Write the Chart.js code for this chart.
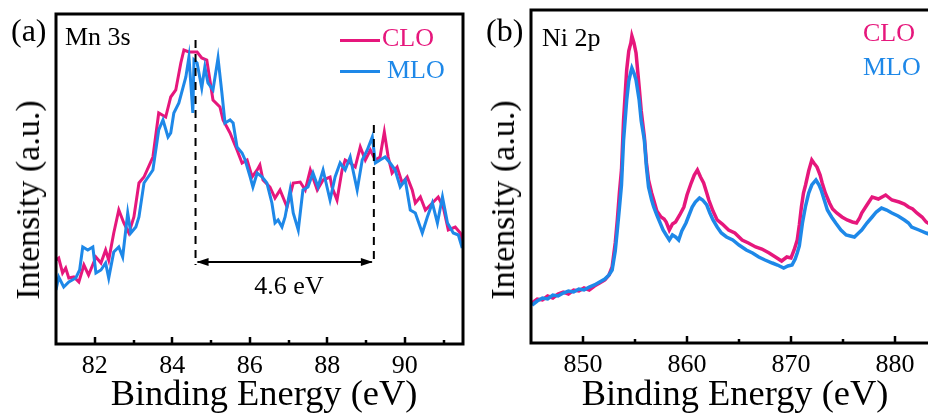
<!DOCTYPE html>
<html>
<head>
<meta charset="utf-8">
<script src="https://cdn.jsdelivr.net/npm/chart.js@4.4.1/dist/chart.umd.min.js"></script>
<style>
  html, body { margin: 0; padding: 0; background: #fff; overflow: hidden; }
  body { width: 928px; height: 416px; position: relative; font-family: "Liberation Serif", "DejaVu Serif", serif; color: #000; }
  .cv { position: absolute; top: 0; }
  .t { position: absolute; white-space: nowrap; line-height: 1; }
  .rot { transform: translate(-50%, -50%) rotate(-90deg); }
  .ctr { transform: translate(-50%, -50%); }
  .wide { transform: translate(-50%, -50%) scaleX(1.04); }
  .sw { position: absolute; height: 3px; width: 40px; }
</style>
</head>
<body>
<div class="cv" style="left:0;width:480px;height:416px"><canvas id="cto_mn"></canvas></div>
<div class="cv" style="left:470px;width:480px;height:416px"><canvas id="cto_ni"></canvas></div>

<div class="t" style="left:11px;top:14px;font-size:32px">(a)</div>
<div class="t" style="left:486px;top:14px;font-size:32px">(b)</div>
<div class="t" style="left:65px;top:24px;font-size:26px">Mn 3s</div>
<div class="t" style="left:542px;top:25px;font-size:26px">Ni 2p</div>

<div class="sw" style="left:340px;top:39px;background:#e6177c"></div>
<div class="sw" style="left:340px;top:70px;background:#1e88e8"></div>
<div class="t" style="left:382px;top:25px;font-size:26px;color:#e6177c">CLO</div>
<div class="t" style="left:387px;top:57px;font-size:26px;color:#1e88e8">MLO</div>
<div class="t" style="left:863px;top:20px;font-size:26px;color:#e6177c">CLO</div>
<div class="t" style="left:863px;top:54px;font-size:26px;color:#1e88e8">MLO</div>

<div class="t ctr" style="left:289px;top:286px;font-size:26px">4.6 eV</div>

<div class="t rot" style="left:28px;top:200px;font-size:34px">Intensity (a.u.)</div>
<div class="t rot" style="left:503px;top:200px;font-size:34px">Intensity (a.u.)</div>
<div class="t wide" style="left:264px;top:393px;font-size:35px">Binding Energy (eV)</div>
<div class="t wide" style="left:735px;top:393px;font-size:35px">Binding Energy (eV)</div>

<script>
// Mn 3s (a)
var mnEnergyClo = [81.00, 81.07, 81.17, 81.25, 81.33, 81.46, 81.59, 81.72, 81.84, 82.03, 82.16, 82.28, 82.36, 82.49, 82.62, 82.75, 82.88, 83.01, 83.14, 83.27, 83.50, 83.65, 83.83, 83.96, 84.09, 84.22, 84.30, 84.43, 84.64, 84.76, 84.89, 84.97, 85.05, 85.23, 85.31, 85.49, 85.67, 85.80, 85.93, 86.06, 86.19, 86.26, 86.34, 86.52, 86.65, 86.78, 86.96, 87.12, 87.30, 87.43, 87.56, 87.74, 87.89, 88.07, 88.12, 88.25, 88.38, 88.46, 88.59, 88.72, 88.85, 88.98, 89.11, 89.24, 89.36, 89.47, 89.57, 89.67, 89.80, 89.93, 90.06, 90.19, 90.27, 90.40, 90.53, 90.71, 90.86, 90.99, 91.12, 91.30, 91.43, 91.50];
var mnClo = [84, 86, 71, 76, 66, 67, 62, 79, 69, 87, 81, 94, 84, 111, 134, 121, 111, 127, 161, 167, 187, 231, 227, 247, 254, 281, 294, 292, 292, 286, 284, 264, 244, 237, 224, 211, 194, 181, 184, 167, 174, 179, 164, 157, 146, 154, 137, 161, 162, 154, 174, 154, 164, 167, 157, 144, 174, 184, 181, 177, 197, 184, 194, 184, 187, 212, 187, 171, 177, 161, 167, 154, 141, 147, 134, 141, 147, 137, 114, 117, 111, 100];
var mnEnergyMlo = [81.00, 81.07, 81.20, 81.33, 81.51, 81.61, 81.69, 81.82, 81.95, 82.03, 82.16, 82.28, 82.36, 82.49, 82.62, 82.72, 82.85, 82.93, 83.06, 83.14, 83.27, 83.50, 83.65, 83.76, 83.89, 83.96, 84.04, 84.17, 84.35, 84.43, 84.53, 84.56, 84.64, 84.76, 84.84, 84.92, 85.05, 85.18, 85.28, 85.36, 85.49, 85.57, 85.67, 85.80, 85.88, 86.01, 86.08, 86.19, 86.32, 86.44, 86.57, 86.65, 86.73, 86.83, 86.91, 87.04, 87.12, 87.25, 87.37, 87.50, 87.63, 87.76, 87.89, 88.07, 88.20, 88.33, 88.46, 88.59, 88.77, 88.90, 89.03, 89.16, 89.24, 89.36, 89.49, 89.62, 89.75, 89.88, 90.01, 90.14, 90.27, 90.45, 90.58, 90.71, 90.84, 90.97, 91.10, 91.25, 91.38, 91.48];
var mnMlo = [54, 67, 57, 62, 66, 74, 97, 94, 97, 71, 74, 81, 66, 92, 97, 87, 131, 111, 117, 127, 161, 174, 214, 224, 207, 211, 231, 241, 267, 287, 231, 284, 281, 256, 277, 261, 254, 286, 251, 221, 224, 221, 197, 191, 184, 167, 157, 171, 167, 161, 141, 121, 124, 117, 127, 154, 131, 114, 154, 157, 171, 157, 174, 144, 167, 181, 174, 187, 154, 184, 194, 207, 181, 184, 187, 181, 174, 157, 164, 134, 131, 111, 127, 141, 121, 147, 121, 111, 109, 96];
var mnTicks = [82, 84, 86, 88, 90];
var mnMinor = [83, 85, 87, 89, 91];
var splitPeaks = [84.6, 89.2];

// Ni 2p (b)
var niEnergyClo = [845.1, 845.6, 846.1, 846.6, 847.1, 847.6, 848.1, 848.6, 849.1, 849.6, 850.1, 850.6, 851.1, 851.6, 852.1, 852.5, 852.8, 853.1, 853.3, 853.5, 853.7, 853.9, 854.2, 854.4, 854.6, 854.7, 854.9, 855.1, 855.4, 855.6, 855.9, 856.1, 856.3, 856.6, 856.8, 857.1, 857.5, 857.8, 858.0, 858.3, 858.6, 858.9, 859.3, 859.7, 860.0, 860.4, 860.7, 861.0, 861.3, 861.6, 861.9, 862.1, 862.5, 862.9, 863.4, 864.0, 864.6, 865.3, 865.9, 866.6, 867.2, 867.9, 868.5, 869.1, 869.6, 870.0, 870.3, 870.6, 870.8, 871.0, 871.2, 871.4, 871.7, 872.0, 872.2, 872.5, 872.8, 873.0, 873.3, 873.7, 874.0, 874.4, 874.9, 875.4, 875.9, 876.3, 876.6, 876.8, 877.3, 877.8, 878.4, 879.1, 879.7, 880.4, 880.9, 881.3, 881.7, 882.1, 882.6, 883.0, 883.5, 884.0, 885.0];
var niClo = [40, 44, 43, 47, 45, 49, 51, 49, 53, 52, 55, 53, 57, 60, 63, 68, 76, 100, 123, 150, 173, 223, 273, 292, 300, 307, 300, 290, 256, 232, 206, 180, 163, 150, 143, 132, 126, 124, 121, 113, 119, 121, 128, 136, 148, 160, 168, 173, 166, 160, 150, 143, 132, 123, 119, 113, 110, 103, 100, 96, 94, 90, 86, 82, 86, 85, 93, 103, 118, 136, 150, 158, 172, 183, 180, 176, 168, 160, 150, 140, 134, 130, 126, 123, 121, 120, 125, 130, 138, 146, 144, 148, 143, 141, 139, 136, 134, 130, 126, 121, 118, 115, 110];
var niEnergyMlo = [845.1, 845.6, 846.1, 846.6, 847.1, 847.6, 848.1, 848.6, 849.1, 849.6, 850.1, 850.6, 851.1, 851.6, 852.1, 852.5, 852.8, 853.1, 853.3, 853.5, 853.7, 853.9, 854.2, 854.4, 854.6, 854.7, 854.9, 855.1, 855.4, 855.6, 855.9, 856.1, 856.3, 856.6, 856.8, 857.1, 857.3, 857.7, 858.0, 858.3, 858.6, 858.9, 859.2, 859.5, 859.9, 860.2, 860.5, 860.8, 861.2, 861.5, 861.9, 862.2, 862.5, 862.9, 863.3, 863.8, 864.4, 865.0, 865.7, 866.3, 866.9, 867.5, 868.2, 868.7, 869.3, 869.7, 870.1, 870.4, 870.6, 870.8, 871.1, 871.4, 871.7, 872.0, 872.4, 872.7, 872.9, 873.2, 873.5, 873.9, 874.3, 874.8, 875.3, 875.7, 876.1, 876.5, 876.8, 877.3, 877.8, 878.2, 878.7, 879.2, 879.7, 880.3, 880.9, 881.3, 881.6, 882.3, 883.0, 884.0, 885.0];
var niMlo = [38, 42, 45, 44, 48, 47, 50, 52, 51, 54, 53, 56, 58, 61, 64, 68, 73, 92, 113, 135, 158, 203, 243, 262, 271, 275, 270, 263, 243, 222, 203, 176, 156, 143, 136, 128, 123, 113, 108, 103, 108, 106, 103, 112, 120, 128, 136, 141, 145, 143, 138, 130, 123, 116, 110, 106, 103, 98, 93, 90, 86, 83, 80, 78, 75, 77, 78, 84, 90, 97, 120, 137, 150, 158, 163, 158, 153, 143, 133, 126, 120, 113, 108, 107, 106, 110, 113, 120, 126, 131, 135, 133, 130, 127, 123, 120, 116, 113, 110, 106, 102];
var niTicks = [850, 860, 870, 880];
var niMinor = [855, 865, 875];

var pink = "#e6177c";
var blue = "#1e88e8";

function pts(xs, ys) {
  return xs.map(function (x, i) { return { x: x, y: ys[i] }; });
}

// frame, inward ticks, peak-split marker
var decor = {
  id: "decor",
  afterDatasetsDraw: function (chart, args, opts) {
    var c = chart.ctx, a = chart.chartArea, xs = chart.scales.x, ys = chart.scales.y;
    c.save();
    c.strokeStyle = "#000";
    c.lineWidth = 2.5;
    opts.major.forEach(function (v) {
      var px = Math.round(xs.getPixelForValue(v));
      c.beginPath(); c.moveTo(px, a.bottom); c.lineTo(px, a.bottom - 7); c.stroke();
    });
    opts.minor.forEach(function (v) {
      var px = Math.round(xs.getPixelForValue(v));
      c.beginPath(); c.moveTo(px, a.bottom); c.lineTo(px, a.bottom - 4); c.stroke();
    });
    if (opts.split) {
      var x1 = xs.getPixelForValue(opts.split[0]), x2 = xs.getPixelForValue(opts.split[1]);
      var yb = ys.getPixelForValue(79), ya = ys.getPixelForValue(82);
      c.lineWidth = 2;
      c.setLineDash([8, 6]);
      c.beginPath();
      c.moveTo(x1, ys.getPixelForValue(304)); c.lineTo(x1, yb);
      c.moveTo(x2, ys.getPixelForValue(219)); c.lineTo(x2, yb);
      c.stroke();
      c.setLineDash([]);
      c.beginPath(); c.moveTo(x1 + 2, ya); c.lineTo(x2 - 2, ya); c.stroke();
      c.fillStyle = "#000";
      c.beginPath(); c.moveTo(x1 + 1, ya); c.lineTo(x1 + 13, ya - 4); c.lineTo(x1 + 13, ya + 4); c.closePath(); c.fill();
      c.beginPath(); c.moveTo(x2 - 1, ya); c.lineTo(x2 - 13, ya - 4); c.lineTo(x2 - 13, ya + 4); c.closePath(); c.fill();
    }
    c.lineWidth = 3;
    c.strokeRect(a.left, a.top, a.right - a.left, a.bottom - a.top);
    c.restore();
  }
};

function makeChart(id, dsClo, dsMlo, xmin, xmax, ymax, ticks, minor, split, pad, lw) {
  return new Chart(document.getElementById(id), {
    type: "line",
    data: {
      datasets: [
        { label: "CLO", data: dsClo, borderColor: pink, borderWidth: lw, pointRadius: 0, tension: 0, order: 2 },
        { label: "MLO", data: dsMlo, borderColor: blue, borderWidth: lw, pointRadius: 0, tension: 0, order: 1 }
      ]
    },
    options: {
      responsive: true,
      maintainAspectRatio: false,
      animation: false,
      layout: { padding: pad },
      plugins: { legend: { display: false }, tooltip: { enabled: false }, decor: { major: ticks, minor: minor, split: split } },
      scales: {
        x: {
          type: "linear", min: xmin, max: xmax,
          grid: { display: false, drawTicks: false },
          border: { display: false },
          afterBuildTicks: function (s) { s.ticks = ticks.map(function (v) { return { value: v }; }); },
          afterFit: function (s) { s.height = 72; },
          ticks: { color: "#000", padding: 7, maxRotation: 0, autoSkip: false, font: { family: "Liberation Serif", size: 26 } }
        },
        y: { display: false, min: 0, max: ymax }
      }
    },
    plugins: [decor]
  });
}

makeChart("cto_mn", pts(mnEnergyClo, mnClo), pts(mnEnergyMlo, mnMlo), 81, 91.5, 330, mnTicks, mnMinor, splitPeaks,
  { left: 56, top: 14, right: 17, bottom: 0 }, 3);
makeChart("cto_ni", pts(niEnergyClo, niClo), pts(niEnergyMlo, niMlo), 845, 885, 333, niTicks, niMinor, null,
  { left: 61, top: 10, right: 3, bottom: 1 }, 3.5);
</script>
</body>
</html>
